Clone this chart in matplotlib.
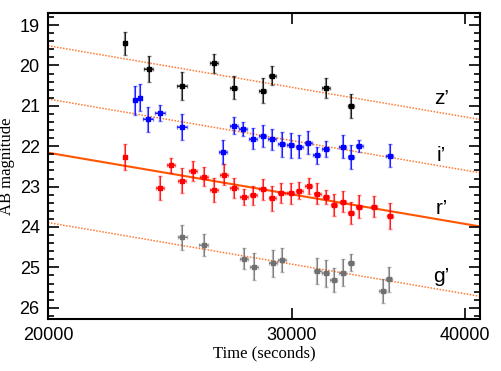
import numpy as np
import matplotlib.pyplot as plt
from matplotlib.ticker import FixedLocator, MultipleLocator, NullLocator

# z' band
z_t = [22730, 23640, 24990, 26350, 27230, 28570, 29030, 31740, 33090]
z_mag = [19.45, 20.09, 20.50, 19.95, 20.55, 20.63, 20.25, 20.56, 21.01]
z_err = [0.28, 0.33, 0.35, 0.23, 0.28, 0.31, 0.24, 0.24, 0.30]
z_terr = [0, 170, 190, 170, 170, 170, 170, 190, 170]

# i' band
i_t = [23120, 23320, 23630, 24100, 24990, 26760, 27250, 27670, 28130, 28570,
       29030, 29490, 29930, 30370, 30830, 31250, 31720, 32640, 33090, 33550, 35300]
i_mag = [20.86, 20.80, 21.33, 21.18, 21.52, 22.14, 21.49, 21.57, 21.81, 21.75,
         21.83, 21.95, 21.97, 22.01, 21.91, 22.22, 22.07, 22.01, 22.26, 21.99, 22.23]
i_err = [0.36, 0.33, 0.31, 0.20, 0.33, 0.29, 0.21, 0.17, 0.26, 0.27,
         0.26, 0.31, 0.31, 0.28, 0.29, 0.21, 0.19, 0.28, 0.30, 0.15, 0.29]
i_terr = [0, 0, 200, 200, 200, 180, 180, 180, 180, 180,
          180, 180, 180, 180, 180, 180, 180, 180, 180, 180, 200]

# r' band
r_t = [22740, 24100, 24550, 24990, 25450, 25910, 26350, 26790, 27250, 27700,
       28130, 28570, 29030, 29480, 29930, 30370, 30850, 31290, 31740, 32180,
       32640, 33090, 33550, 34400, 35300]
r_mag = [22.27, 23.03, 22.47, 22.85, 22.61, 22.75, 23.08, 22.70, 23.03, 23.25,
         23.22, 23.07, 23.29, 23.15, 23.17, 23.10, 22.99, 23.18, 23.25, 23.46,
         23.37, 23.66, 23.50, 23.50, 23.73]
r_err = [0.33, 0.29, 0.19, 0.30, 0.24, 0.24, 0.30, 0.25, 0.25, 0.20,
         0.23, 0.26, 0.31, 0.25, 0.25, 0.21, 0.20, 0.26, 0.17, 0.28,
         0.26, 0.27, 0.28, 0.26, 0.32]
r_terr = [0] + [170] * 24

# g' band
g_t = [25000, 25900, 27700, 28150, 29050, 29510, 31290, 31720, 32150, 32640,
       33090, 34870, 35260]
g_mag = [24.26, 24.45, 24.79, 24.98, 24.90, 24.82, 25.08, 25.15, 25.31, 25.13,
         24.88, 25.58, 25.29]
g_err = [0.32, 0.28, 0.26, 0.33, 0.34, 0.30, 0.32, 0.34, 0.30, 0.33,
         0.21, 0.30, 0.31]
g_terr = [190] * 13

# power-law fits: magnitude at 20000 s, common slope per decade
fit_mag0 = {"z": 19.51, "i": 20.83, "r": 22.16, "g": 23.89}
fit_slope = 5.86

band_names = ["z’", "i’", "r’", "g’"]
label_t = 38450
label_mag = [20.83, 22.22, 23.55, 25.23]

fig = plt.figure(figsize=(5.01, 3.71), dpi=100)
ax = fig.add_axes([0.0958, 0.140, 0.8622, 0.825])

bands = [
    (z_t, z_mag, z_err, z_terr, "black"),
    (i_t, i_mag, i_err, i_terr, "blue"),
    (r_t, r_mag, r_err, r_terr, "red"),
    (g_t, g_mag, g_err, g_terr, "#707070"),
]

# fit lines
tt = np.array([20000, 41000])
for key in ["z", "i", "g"]:
    ax.plot(tt, fit_mag0[key] + fit_slope * np.log10(tt / 20000),
            color="#ff7a33", lw=1.1, ls=(0, (1, 1)), zorder=1)
ax.plot(tt, fit_mag0["r"] + fit_slope * np.log10(tt / 20000),
        color="#ff5500", lw=1.5, zorder=1)

for t, m, e, te, c in bands:
    ax.errorbar(t, m, yerr=e, xerr=te, fmt="none", ecolor=c, alpha=0.5,
                elinewidth=1.6, capsize=1.5, capthick=1, zorder=2)
    ax.errorbar(t, m, yerr=e, xerr=te, fmt="none", ecolor=c, alpha=0.9,
                elinewidth=0.6, capsize=0, zorder=3)
    ax.plot(t, m, "s", color=c, ms=3.0, zorder=4)

for name, lm in zip(band_names, label_mag):
    ax.text(label_t, lm, name, fontsize=15, ha="center", va="center",
            family="Liberation Sans")

ax.set_xscale("log")
ax.set_xlim(20000, 41000)
ax.set_ylim(26.28, 18.70)

ax.xaxis.set_major_locator(FixedLocator([20000, 30000, 40000]))
ax.xaxis.set_minor_locator(NullLocator())
ax.set_xticklabels(["20000", "30000", "40000"])
ax.yaxis.set_major_locator(MultipleLocator(1))
ax.yaxis.set_minor_locator(MultipleLocator(0.2))

ax.tick_params(which="both", direction="in", top=True, right=True, width=1.2)
ax.tick_params(which="major", length=8, labelsize=13, pad=6)
ax.tick_params(which="minor", length=4)
for lbl in ax.get_xticklabels() + ax.get_yticklabels():
    lbl.set_family("Liberation Sans")
for s in ax.spines.values():
    s.set_linewidth(1.5)

ax.set_xlabel("Time (seconds)", family="Liberation Serif", fontsize=12, labelpad=1)
ax.set_ylabel("AB magnitude", family="Liberation Serif", fontsize=12, labelpad=3)

fig.savefig("out.png", dpi=100)
